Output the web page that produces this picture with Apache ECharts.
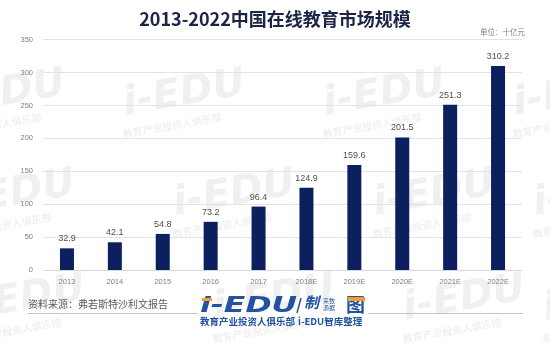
<!DOCTYPE html>
<html>
<head>
<meta charset="utf-8">
<script src="https://cdn.jsdelivr.net/npm/echarts@6/dist/echarts.min.js"></script>
<style>
  html,body{margin:0;padding:0;background:#fff;}
  #chart{width:550px;height:346px;}
</style>
</head>
<body>
<div id="chart"></div>
<script>
const years = ['2013','2014','2015','2016','2017','2018E','2019E','2020E','2021E','2022E'];
const marketSize = [32.9, 42.1, 54.8, 73.2, 96.4, 124.9, 159.6, 201.5, 251.3, 310.2];
const titleText = '2013-2022中国在线教育市场规模';
const unitText = '单位：十亿元';
const sourceText = '资料来源：弗若斯特沙利文报告';

const navy = '#0c1f5e';
const logoBlue = '#2352a0';
const wmColor = 'rgba(150,150,150,0.14)';

// faint background watermarks, tiled
const wmRows = [[-55,[-40,150,340,530]],[85,[-60,120,320,510]],[185,[-50,170,370,530]],[290,[-40,210,400,540]]];
const watermarks = [];
wmRows.forEach(([y,xs]) => {
  xs.forEach(x => {
    watermarks.push({
      type:'text', x:x, y:y, rotation:0.17, z:-1, silent:true,
      style:{text:'i-EDU', fill:wmColor, font:'italic bold 40px "DejaVu Sans"'}
    });
    watermarks.push({
      type:'text', x:x+2, y:y+44, rotation:0.17, z:-1, silent:true,
      style:{text:'教育产业投资人俱乐部', fill:wmColor, font:'bold 10px "Noto Sans CJK SC"'}
    });
  });
});

const chart = echarts.init(document.getElementById('chart'));
chart.setOption({
  animation:false,
  backgroundColor:'#fff',
  title:{
    text:titleText,
    left:'center',
    top:5,
    textStyle:{color:'#1c2548',fontSize:18,fontWeight:'bold',fontFamily:'"Noto Sans CJK SC"'}
  },
  grid:{left:43,right:28,top:39.7,bottom:76},
  xAxis:{
    type:'category',
    data:years,
    axisLine:{lineStyle:{color:'#d9d9d9'}},
    axisTick:{show:false},
    axisLabel:{color:'#808080',fontSize:7.5,margin:8,fontFamily:'"Liberation Sans"'}
  },
  yAxis:{
    type:'value',
    min:0,max:350,interval:50,
    axisLine:{show:false},
    axisTick:{show:false},
    axisLabel:{color:'#808080',fontSize:7.5,margin:10,fontFamily:'"Liberation Sans"'},
    splitLine:{lineStyle:{color:'#e3e3e3'}}
  },
  series:[{
    type:'bar',
    data:marketSize,
    barWidth:14,
    itemStyle:{color:navy},
    label:{show:true,position:'top',distance:5,color:'#505050',fontSize:9,fontFamily:'"Liberation Sans"'}
  }],
  graphic:[
    ...watermarks,
    {type:'text',left:480,top:28,style:{text:unitText,fill:'#7f7f7f',font:'7.5px "Noto Sans CJK SC"'}},
    {type:'text',left:28,top:299,style:{text:sourceText,fill:'#595959',font:'10px "Noto Sans CJK SC"'}},
    {type:'line',shape:{x1:28,y1:313.5,x2:198,y2:313.5},style:{stroke:'#c4c4c4',lineWidth:1}},
    {type:'line',shape:{x1:368,y1:313.5,x2:523,y2:313.5},style:{stroke:'#c4c4c4',lineWidth:1}},
    // logo approximation
    {type:'text',x:200,y:296,scaleX:1.5,style:{text:'i-EDU',fill:logoBlue,font:'italic bold 21px "DejaVu Sans"'}},
    {type:'rect',shape:{x:202,y:298,width:10,height:3},style:{fill:'#f0a030'}},
    {type:'text',left:200,top:317,style:{text:'教育产业投资人俱乐部',fill:logoBlue,font:'bold 9.5px "Noto Sans CJK SC"'}},
    {type:'line',shape:{x1:297,y1:313,x2:301,y2:298},style:{stroke:logoBlue,lineWidth:1.5}},
    {type:'text',left:304,top:295,style:{text:'制',fill:logoBlue,font:'italic bold 15px "Noto Sans CJK SC"'}},
    {type:'text',left:323,top:297,style:{text:'来数\n源据',fill:logoBlue,font:'6px "Noto Sans CJK SC"',lineHeight:7}},
    {type:'text',left:346,top:295,style:{text:'图',fill:logoBlue,font:'bold 19px "Noto Sans CJK SC"'}},
    {type:'rect',shape:{x:348,y:297,width:17,height:4},style:{fill:'#f0a030'}},
    {type:'text',left:298,top:317,style:{text:'i-EDU智库整理',fill:logoBlue,font:'bold 9.5px "Noto Sans CJK SC"'}}
  ]
});
</script>
</body>
</html>
